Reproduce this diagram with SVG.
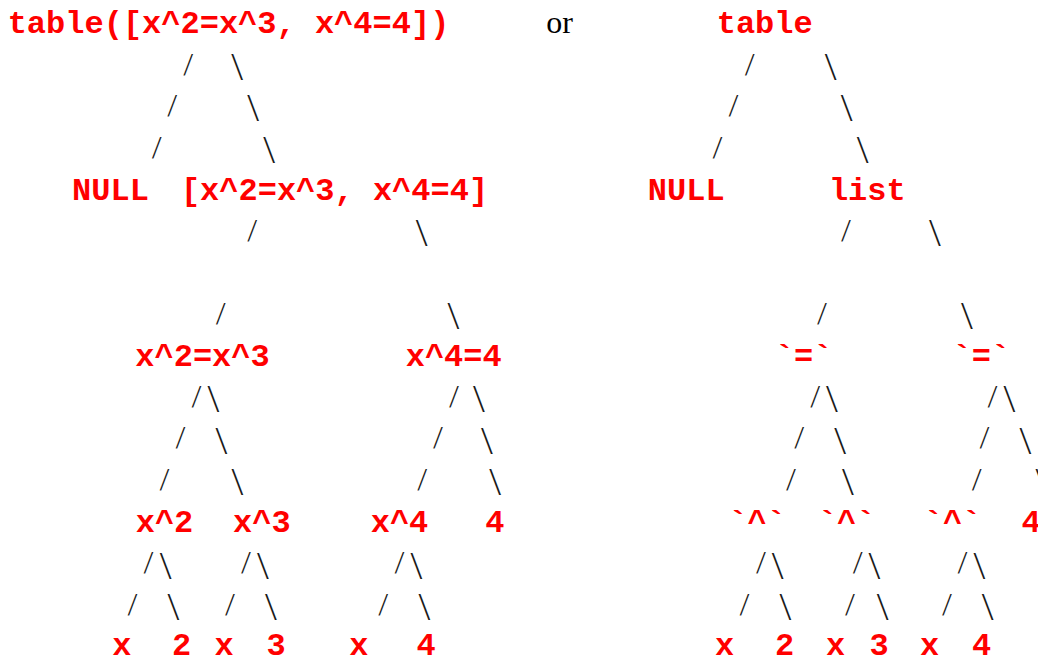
<svg xmlns="http://www.w3.org/2000/svg" width="1038" height="658" viewBox="0 0 1038 658">
<style>
.lbl{font-family:"Liberation Mono","Courier New",monospace;font-weight:bold;font-size:32px;fill:#ff0000;text-anchor:middle}
.or{font-family:"Liberation Serif","Times New Roman",serif;font-size:32px;fill:#000;text-anchor:middle}
.f{font-family:Roboto,"Liberation Sans",sans-serif;font-weight:300;font-size:27.5px;fill:#1a1a1a;text-anchor:middle}
.b{font-family:Roboto,"Liberation Sans",sans-serif;font-weight:300;font-size:33px;fill:#1a1a1a;text-anchor:middle}
</style>
<rect width="1038" height="658" fill="#fff"/>
<g id="connectors">
<g transform="translate(0,-1.3)">
<text class="f" x="188.5" y="75">/</text><text class="f" x="172.5" y="116.4">/</text><text class="f" x="157" y="158">/</text>
<text class="f" x="252.5" y="241">/</text><text class="f" x="221" y="324.2">/</text>
<text class="f" x="196.7" y="407.3">/</text><text class="f" x="454.2" y="407.3">/</text>
<text class="f" x="180.8" y="448.8">/</text><text class="f" x="438.3" y="448.8">/</text>
<text class="f" x="164.8" y="490.4">/</text><text class="f" x="422.5" y="490.4">/</text>
<text class="f" x="148.8" y="573.5">/</text><text class="f" x="246.2" y="573.5">/</text><text class="f" x="399.8" y="573.5">/</text>
<text class="f" x="132.8" y="615">/</text><text class="f" x="230.2" y="615">/</text><text class="f" x="383.5" y="615">/</text>
<text class="f" x="750" y="75">/</text><text class="f" x="733.8" y="116.4">/</text><text class="f" x="717.8" y="158">/</text>
<text class="f" x="846.2" y="241">/</text><text class="f" x="822.2" y="324.2">/</text>
<text class="f" x="815.5" y="407.3">/</text><text class="f" x="992.8" y="407.3">/</text>
<text class="f" x="799.5" y="448.8">/</text><text class="f" x="984.7" y="448.8">/</text>
<text class="f" x="791.3" y="490.4">/</text><text class="f" x="977" y="490.4">/</text>
<text class="f" x="761.2" y="573.5">/</text><text class="f" x="858" y="573.5">/</text><text class="f" x="962.8" y="573.5">/</text>
<text class="f" x="744.7" y="615">/</text><text class="f" x="850.3" y="615">/</text><text class="f" x="947.2" y="615">/</text>
</g>
<g transform="translate(0,3)">
<text class="b" x="237" y="75">\</text><text class="b" x="253" y="116.4">\</text><text class="b" x="269" y="158">\</text>
<text class="b" x="421.5" y="241">\</text><text class="b" x="453.3" y="324.2">\</text>
<text class="b" x="213.3" y="407.3">\</text><text class="b" x="478.7" y="407.3">\</text>
<text class="b" x="221.3" y="448.8">\</text><text class="b" x="486.7" y="448.8">\</text>
<text class="b" x="237.3" y="490.4">\</text><text class="b" x="495" y="490.4">\</text>
<text class="b" x="165.5" y="573.5">\</text><text class="b" x="262.8" y="573.5">\</text><text class="b" x="416.2" y="573.5">\</text>
<text class="b" x="173.3" y="615">\</text><text class="b" x="270.8" y="615">\</text><text class="b" x="424.2" y="615">\</text>
<text class="b" x="830.5" y="75">\</text><text class="b" x="846.5" y="116.4">\</text><text class="b" x="862.5" y="158">\</text>
<text class="b" x="934.7" y="241">\</text><text class="b" x="966.7" y="324.2">\</text>
<text class="b" x="831.8" y="407.3">\</text><text class="b" x="1009.2" y="407.3">\</text>
<text class="b" x="840" y="448.8">\</text><text class="b" x="1025.2" y="448.8">\</text>
<text class="b" x="847.8" y="490.4">\</text><text class="b" x="1041.2" y="490.4">\</text>
<text class="b" x="777.5" y="573.5">\</text><text class="b" x="874.2" y="573.5">\</text><text class="b" x="979.2" y="573.5">\</text>
<text class="b" x="785.2" y="615">\</text><text class="b" x="882.5" y="615">\</text><text class="b" x="987.5" y="615">\</text>
</g>
</g>
<text class="or" x="559.5" y="33.3">or</text>
<g id="n-table-call"><text class="lbl" x="228.5" y="33.3">table([x^2=x^3, x^4=4])</text></g>
<g id="n-null-left"><text class="lbl" x="110.5" y="199.5">NULL</text></g>
<g id="n-list-literal"><text class="lbl" x="334.5" y="199.5">[x^2=x^3, x^4=4]</text></g>
<g id="n-eq1-left"><text class="lbl" x="202.5" y="365.7">x^2=x^3</text></g>
<g id="n-eq2-left"><text class="lbl" x="453.7" y="365.7">x^4=4</text></g>
<g id="n-pow2-left"><text class="lbl" x="164.5" y="531.9">x^2</text></g>
<g id="n-pow3-left"><text class="lbl" x="261.8" y="531.9">x^3</text></g>
<g id="n-pow4-left"><text class="lbl" x="399.5" y="531.9">x^4</text></g>
<g id="n-four-left"><text class="lbl" x="494.8" y="531.9">4</text></g>
<g id="n-x1-left"><text class="lbl" x="121.8" y="655">x</text></g>
<g id="n-two-left"><text class="lbl" x="181.7" y="655">2</text></g>
<g id="n-x2-left"><text class="lbl" x="224.2" y="655">x</text></g>
<g id="n-three-left"><text class="lbl" x="276" y="655">3</text></g>
<g id="n-x3-left"><text class="lbl" x="358.8" y="655">x</text></g>
<g id="n-four2-left"><text class="lbl" x="426" y="655">4</text></g>
<g id="n-table"><text class="lbl" x="764.7" y="33.3">table</text></g>
<g id="n-null-right"><text class="lbl" x="686.2" y="199.5">NULL</text></g>
<g id="n-list"><text class="lbl" x="867.3" y="199.5">list</text></g>
<g id="n-eq1-right"><text class="lbl" x="803.7" y="365.7">`=`</text></g>
<g id="n-eq2-right"><text class="lbl" x="981.3" y="365.7">`=`</text></g>
<g id="n-pow2-right"><text class="lbl" x="757.2" y="531.9">`^`</text></g>
<g id="n-pow3-right"><text class="lbl" x="846.7" y="531.9">`^`</text></g>
<g id="n-pow4-right"><text class="lbl" x="952.5" y="531.9">`^`</text></g>
<g id="n-four-right"><text class="lbl" x="1031" y="531.9">4</text></g>
<g id="n-x1-right"><text class="lbl" x="724.7" y="655">x</text></g>
<g id="n-two-right"><text class="lbl" x="784.5" y="655">2</text></g>
<g id="n-x2-right"><text class="lbl" x="835.5" y="655">x</text></g>
<g id="n-three-right"><text class="lbl" x="879.2" y="655">3</text></g>
<g id="n-x3-right"><text class="lbl" x="929.5" y="655">x</text></g>
<g id="n-four2-right"><text class="lbl" x="981.7" y="655">4</text></g>
</svg>
